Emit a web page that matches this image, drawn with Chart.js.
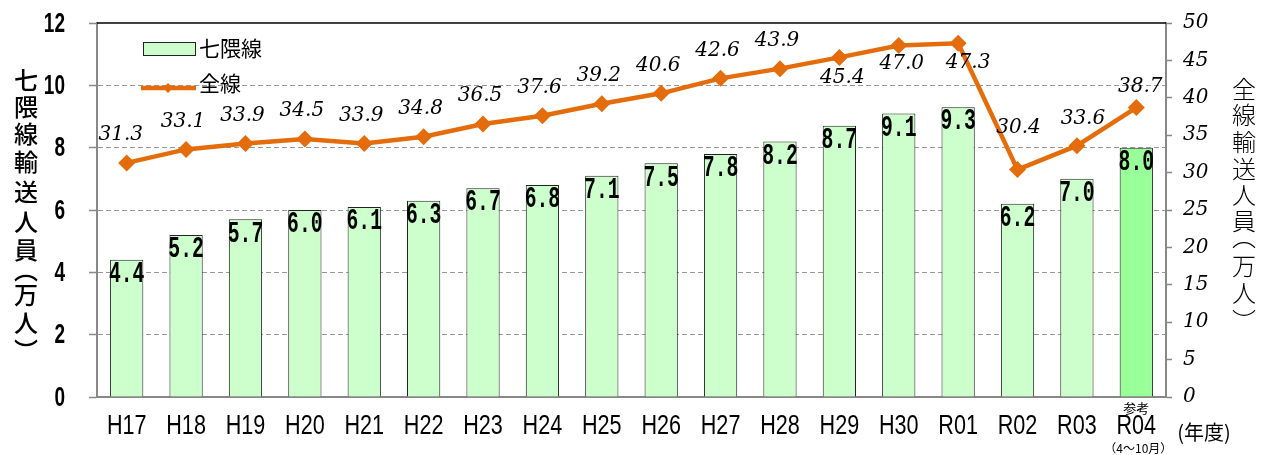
<!DOCTYPE html>
<html><head><meta charset="utf-8">
<script src="https://cdn.jsdelivr.net/npm/chart.js@4.4.1/dist/chart.umd.min.js"></script>
<style>html,body{margin:0;padding:0;background:#fff;}#wrap{width:1268px;height:455px;position:relative;}</style>
</head><body><div id="wrap"><canvas id="c"></canvas></div>
<script>
const categories = ['H17','H18','H19','H20','H21','H22','H23','H24','H25','H26','H27','H28','H29','H30','R01','R02','R03','R04'];
const nanakumaValues = [4.4,5.2,5.7,6.0,6.1,6.3,6.7,6.8,7.1,7.5,7.8,8.2,8.7,9.1,9.3,6.2,7.0,8.0];
const allLineValues = [31.3,33.1,33.9,34.5,33.9,34.8,36.5,37.6,39.2,40.6,42.6,43.9,45.4,47.0,47.3,30.4,33.6,38.7];
const leftTicks = [0,2,4,6,8,10,12];
const rightTicks = [0,5,10,15,20,25,30,35,40,45,50];
const seriesNames = ['七隈線','全線'];
const leftTitle = '七隈線輸送人員（万人）';
const rightTitle = '全線輸送人員（万人）';
const xUnit = '(年度)';
const refNoteTop = '参考';
const refNoteBottom = '（4〜10月）';

const ORANGE = '#E46C0A';
const BAR = '#CCFFCC';
const BAR_REF = '#99FF99';

function txt(ctx, s, x, y, font, sx, align, color) {
  ctx.save();
  ctx.font = font; ctx.fillStyle = color || '#000';
  ctx.textBaseline = 'middle'; ctx.textAlign = align || 'center';
  ctx.translate(x, y); ctx.scale(sx, 1);
  ctx.fillText(s, 0, 0);
  ctx.restore();
}
function vchar(ctx, ch, x, cy, font) {
  ctx.save();
  ctx.font = font; ctx.fillStyle = '#000';
  ctx.textAlign = 'center'; ctx.textBaseline = 'alphabetic';
  const m = ctx.measureText(ch);
  const asc = m.actualBoundingBoxAscent, desc = m.actualBoundingBoxDescent;
  ctx.fillText(ch, x, cy - (desc - asc) / 2);
  ctx.restore();
}
function toVertical(s) { return s.replace('（','︵').replace('）','︶'); }

const deco = {
  id: 'deco',
  afterDraw(chart) {
    const {ctx, chartArea: a, scales} = chart;
    ctx.save(); ctx.strokeStyle = '#000'; ctx.lineWidth = 1.5;
    ctx.beginPath(); ctx.moveTo(a.left, a.top); ctx.lineTo(a.right, a.top); ctx.stroke(); ctx.restore();

    leftTicks.forEach(v => {
      txt(ctx, String(v), 65, scales.y.getPixelForValue(v) + 1, 'bold 28px "Liberation Sans", Arial, sans-serif', 0.68, 'right');
    });
    categories.forEach((c, i) => {
      txt(ctx, c, scales.x.getPixelForValue(i), 427, '27px "Liberation Sans", Arial, sans-serif', 0.8, 'center');
    });
    const last = categories.length - 1;
    const xr = scales.x.getPixelForValue(last);
    txt(ctx, refNoteTop, xr, 408, '13px "Noto Sans CJK JP"', 1, 'center');
    txt(ctx, refNoteBottom, xr + 2, 448, '12px "Noto Sans CJK JP"', 1, 'center');
    txt(ctx, xUnit, 1204, 432, '20px "Noto Sans CJK JP"', 1, 'center');

    const mb = chart.getDatasetMeta(1);
    mb.data.forEach((el, i) => {
      txt(ctx, nanakumaValues[i].toFixed(1), el.x, el.y + 15, 'bold 29px "Liberation Mono", monospace', 0.68, 'center');
    });
    const ml = chart.getDatasetMeta(0);
    ml.data.forEach((el, i) => {
      let dx = -3, dy = -28;
      if (i === 0) dx = -6;
      if (i === 12) { dx = 3; dy = 20; }
      if (i === 13) { dx = 3; dy = 18; }
      if (i === 14) { dx = 10; dy = 20; }
      if (i === 15) { dx = 1; dy = -42; }
      if (i === 16) { dx = 6; dy = -27; }
      if (i === 17) { dx = 4; dy = -21; }
      txt(ctx, allLineValues[i].toFixed(1), el.x + dx, el.y + dy, 'italic 20px "DejaVu Serif", serif', 1, 'center');
    });

    ctx.save();
    ctx.fillStyle = BAR; ctx.strokeStyle = '#222'; ctx.lineWidth = 1;
    ctx.fillRect(143, 42, 52, 13); ctx.strokeRect(143.5, 42.5, 52, 13);
    ctx.strokeStyle = ORANGE; ctx.lineWidth = 4.5;
    ctx.beginPath(); ctx.moveTo(141, 88); ctx.lineTo(196, 88); ctx.stroke();
    ctx.fillStyle = ORANGE; ctx.beginPath();
    ctx.moveTo(168, 83); ctx.lineTo(173, 88); ctx.lineTo(168, 93); ctx.lineTo(163, 88); ctx.closePath(); ctx.fill();
    ctx.restore();
    txt(ctx, seriesNames[0], 199, 48, '21px "Noto Sans CJK JP"', 1, 'left');
    txt(ctx, seriesNames[1], 199, 83, '21px "Noto Sans CJK JP"', 1, 'left');

    const lt = Array.from(toVertical(leftTitle));
    const lY = [79,107,134,162,192,222,250,278,296,323,343];
    lt.forEach((ch, i) => vchar(ctx, ch, 26, lY[i], '500 24px "Noto Sans CJK JP"'));
    const rt = Array.from(toVertical(rightTitle));
    const rY = [88,115,142,169,195,222,245,267,293,312];
    rt.forEach((ch, i) => vchar(ctx, ch, 1244, rY[i], '300 24px "Noto Sans CJK JP"'));
  }
};

new Chart(document.getElementById('c'), {
  data: {
    labels: categories,
    datasets: [
      { type: 'line', label: seriesNames[1], data: allLineValues, yAxisID: 'y1',
        borderColor: ORANGE, backgroundColor: ORANGE, borderWidth: 4.5,
        pointStyle: 'rectRot', pointRadius: 8.5, pointHoverRadius: 8.5, pointBorderWidth: 0,
        tension: 0, order: 0 },
      { type: 'bar', label: seriesNames[0], data: nanakumaValues, yAxisID: 'y',
        backgroundColor: c => c.dataIndex === categories.length - 1 ? BAR_REF : BAR,
        borderColor: '#222', borderWidth: 1, categoryPercentage: 1, barPercentage: 0.56, order: 1 }
    ]
  },
  options: {
    responsive: true, maintainAspectRatio: false, animation: false, events: [],
    layout: { padding: { top: 21, left: 0, right: 0, bottom: 0 } },
    plugins: { legend: { display: false }, tooltip: { enabled: false } },
    scales: {
      x: { type: 'category', offset: true, grid: { display: false },
        border: { display: true, color: '#888', width: 2 }, ticks: { display: false },
        afterFit(s) { s.height = 58; } },
      y: { position: 'left', min: 0, max: 12,
        ticks: { stepSize: 2, display: false },
        grid: { color: c => (c.tick && (c.tick.value === 0 || c.tick.value === 12)) ? 'rgba(0,0,0,0)' : '#999',
          lineWidth: 1, tickLength: 8, tickColor: '#888', tickWidth: 1.5, tickBorderDash: [] },
        border: { display: true, color: '#888', width: 2, dash: [5, 3] },
        afterFit(s) { s.width = 97; } },
      y1: { position: 'right', min: 0, max: 50,
        afterBuildTicks(s) { s.ticks = rightTicks.map(v => ({ value: v })); },
        ticks: { color: '#000', font: { family: '"DejaVu Serif", serif', style: 'italic', size: 20 }, padding: 11 },
        grid: { drawOnChartArea: false, tickLength: 6, tickColor: '#888', tickWidth: 1.5 },
        border: { display: true, color: '#888', width: 2 },
        afterFit(s) { s.width = 102; } }
    }
  },
  plugins: [deco]
});
</script></body></html>
